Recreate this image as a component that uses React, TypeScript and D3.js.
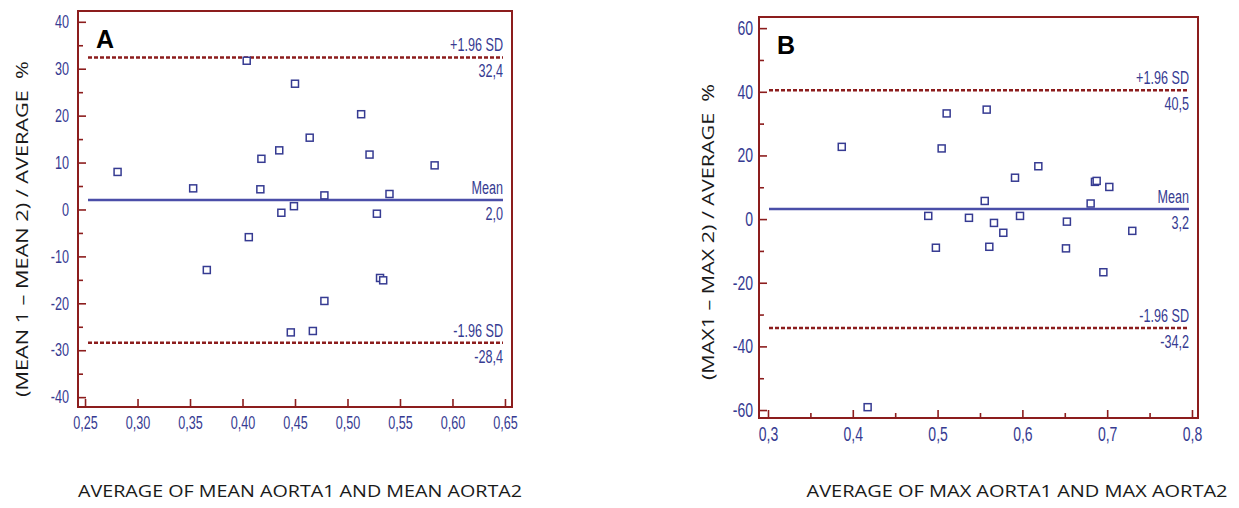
import React, { useEffect, useRef } from 'react';
import * as d3 from 'd3';

// Panel A: mean aorta, % difference vs average
const meanAverage = [0.281, 0.353, 0.366, 0.404, 0.406, 0.417, 0.418, 0.435, 0.437, 0.446, 0.449, 0.450, 0.464, 0.467, 0.478, 0.478, 0.513, 0.521, 0.528, 0.531, 0.534, 0.540, 0.583];
const meanDiff = [8.0, 4.5, -12.9, 31.7, -5.9, 4.3, 10.8, 12.6, -0.7, -26.2, 0.7, 26.8, 15.3, -25.9, 3.0, -19.5, 20.3, 11.7, -0.9, -14.6, -15.1, 3.3, 9.4];
const meanLimits = [32.4, 2.0, -28.4];

// Panel B: max aorta, % difference vs average
const maxAverage = [0.387, 0.4175, 0.489, 0.498, 0.5048, 0.5107, 0.537, 0.5556, 0.5579, 0.561, 0.5665, 0.5775, 0.5913, 0.5972, 0.6188, 0.6514, 0.6525, 0.6805, 0.6856, 0.6876, 0.6955, 0.7025, 0.7296];
const maxDiff = [22.7, -59.1, 1.0, -9.0, 22.2, 33.2, 0.4, 5.7, 34.4, -8.7, -1.2, -4.3, 13.0, 1.0, 16.6, -9.2, -0.8, 4.9, 11.7, 12.0, -16.7, 10.1, -3.7];
const maxLimits = [40.5, 3.2, -34.2];

const limitNames = ['+1.96 SD', 'Mean', '-1.96 SD'];

const xTicksA = [0.25, 0.30, 0.35, 0.40, 0.45, 0.50, 0.55, 0.60, 0.65];
const yTicksA = [-40, -30, -20, -10, 0, 10, 20, 30, 40];
const yMinorA = [-35, -25, -15, -5, 5, 15, 25, 35];

const xTicksB = [0.3, 0.4, 0.5, 0.6, 0.7, 0.8];
const xMinorB = [0.35, 0.45, 0.55, 0.65, 0.75];
const yTicksB = [-60, -40, -20, 0, 20, 40, 60];
const yMinorB = [-50, -30, -10, 10, 30, 50];

const frameColor = '#8c1d1d';
const blue = '#363b92';
const tickFont = "'Liberation Sans', Arial, sans-serif";
const titleFont = "'Open Sans', Lato, sans-serif";

const panels = [
  {
    letter: 'A',
    xs: meanAverage, ys: meanDiff, limits: meanLimits,
    xTicks: xTicksA, xMinor: [], yTicks: yTicksA, yMinor: yMinorA,
    xFmt: (d) => d.toFixed(2).replace('.', ','),
    xDomain: [0.2433, 0.6567], yDomain: [-42.1, 42.3],
    left: 78, right: 512, top: 11, bottom: 407,
    yPad: 9, xPad: 9, fs: 18,
    xTitle: 'AVERAGE OF MEAN AORTA1 AND MEAN AORTA2', xTitleX: 300, xTitleW: 444,
    yTitle: '(MEAN 1 \u2013 MEAN 2) / AVERAGE  %', yTitleX: 28, yTitleY: 229, yTitleW: 336,
  },
  {
    letter: 'B',
    xs: maxAverage, ys: maxDiff, limits: maxLimits,
    xTicks: xTicksB, xMinor: xMinorB, yTicks: yTicksB, yMinor: yMinorB,
    xFmt: (d) => d.toFixed(1).replace('.', ','),
    xDomain: [0.2894, 0.8071], yDomain: [-62.5, 63.5],
    left: 759, right: 1198, top: 17, bottom: 418,
    yPad: 6, xPad: 9, fs: 20,
    xTitle: 'AVERAGE OF MAX AORTA1 AND MAX AORTA2', xTitleX: 1017, xTitleW: 421,
    yTitle: '(MAX1 \u2013 MAX 2) / AVERAGE  %', yTitleX: 714, yTitleY: 232, yTitleW: 296,
  },
];

// squeeze text horizontally, like the narrow font of the original plot
function condense(sel, factor) {
  sel.each(function () {
    const w = this.getComputedTextLength();
    if (w > 0) {
      this.setAttribute('textLength', String(w * factor));
      this.setAttribute('lengthAdjust', 'spacingAndGlyphs');
    }
  });
}

function fitWidth(sel, width) {
  sel.attr('textLength', width).attr('lengthAdjust', 'spacingAndGlyphs');
}

function styleAxis(sel, fs) {
  sel.select('.domain').remove();
  sel.selectAll('.tick line').attr('stroke', frameColor).attr('stroke-width', 1.6);
  sel.selectAll('.tick text')
    .attr('fill', blue)
    .style('font-family', tickFont)
    .style('font-size', fs + 'px')
    .call(condense, 0.7);
}

function drawPanel(svg, p) {
  const x = d3.scaleLinear().domain(p.xDomain).range([p.left, p.right]);
  const y = d3.scaleLinear().domain(p.yDomain).range([p.bottom, p.top]);
  const g = svg.append('g');

  // minor ticks
  g.append('g')
    .attr('transform', `translate(${p.left},0)`)
    .call(d3.axisLeft(y).tickValues(p.yMinor).tickSize(-5).tickFormat(() => ''))
    .call(styleAxis, p.fs);
  g.append('g')
    .attr('transform', `translate(0,${p.bottom})`)
    .call(d3.axisBottom(x).tickValues(p.xMinor).tickSize(-5).tickFormat(() => ''))
    .call(styleAxis, p.fs);

  // major ticks with labels
  g.append('g')
    .attr('transform', `translate(${p.left},0)`)
    .call(d3.axisLeft(y).tickValues(p.yTicks).tickSize(-8).tickPadding(p.yPad).tickFormat((d) => String(d)))
    .call(styleAxis, p.fs);
  g.append('g')
    .attr('transform', `translate(0,${p.bottom})`)
    .call(d3.axisBottom(x).tickValues(p.xTicks).tickSize(-8).tickPadding(p.xPad).tickFormat(p.xFmt))
    .call(styleAxis, p.fs);

  // frame
  g.append('rect')
    .attr('x', p.left).attr('y', p.top)
    .attr('width', p.right - p.left).attr('height', p.bottom - p.top)
    .attr('fill', 'none').attr('stroke', frameColor).attr('stroke-width', 2);

  // mean and limits of agreement
  const x1 = p.left + 10, x2 = p.right - 9;
  p.limits.forEach((v, i) => {
    const isMean = i === 1;
    g.append('line')
      .attr('x1', x1).attr('x2', x2)
      .attr('y1', y(v)).attr('y2', y(v))
      .attr('stroke', isMean ? '#4a4ea8' : frameColor)
      .attr('stroke-width', 2.5)
      .attr('stroke-dasharray', isMean ? null : '4,2');
    g.append('text')
      .attr('x', x2).attr('y', y(v) - 6)
      .attr('text-anchor', 'end')
      .attr('fill', blue)
      .style('font-family', tickFont).style('font-size', '18px')
      .text(limitNames[i])
      .call(condense, 0.7);
    g.append('text')
      .attr('x', x2).attr('y', y(v) + 20)
      .attr('text-anchor', 'end')
      .attr('fill', blue)
      .style('font-family', tickFont).style('font-size', '18px')
      .text(v.toFixed(1).replace('.', ','))
      .call(condense, 0.7);
  });

  // points
  g.selectAll('rect.pt')
    .data(d3.zip(p.xs, p.ys))
    .join('rect')
    .attr('class', 'pt')
    .attr('x', (d) => x(d[0]) - 3.5)
    .attr('y', (d) => y(d[1]) - 3.5)
    .attr('width', 7).attr('height', 7)
    .attr('fill', 'white')
    .attr('stroke', blue)
    .attr('stroke-width', 1.5);

  // panel letter
  g.append('text')
    .attr('x', p.left + 18).attr('y', p.top + 37)
    .attr('fill', '#000')
    .style('font-family', "'Liberation Sans', Arial, sans-serif")
    .style('font-weight', 'bold').style('font-size', '25px')
    .text(p.letter);

  // axis titles
  svg.append('text')
    .attr('x', p.xTitleX).attr('y', 497)
    .attr('text-anchor', 'middle')
    .attr('fill', '#1a1a1a')
    .style('font-family', titleFont).style('font-size', '17px')
    .text(p.xTitle)
    .call(fitWidth, p.xTitleW);
  svg.append('text')
    .attr('transform', `translate(${p.yTitleX},${p.yTitleY}) rotate(-90)`)
    .attr('text-anchor', 'middle')
    .attr('fill', '#1a1a1a')
    .style('font-family', titleFont).style('font-size', '17px')
    .style('white-space', 'pre')
    .text(p.yTitle)
    .call(fitWidth, p.yTitleW);
}

export default function App() {
  const ref = useRef(null);

  useEffect(() => {
    const svg = d3.select(ref.current);
    svg.selectAll('*').remove();
    panels.forEach((p) => drawPanel(svg, p));
  }, []);

  return (
    <svg
      ref={ref}
      width={1239}
      height={508}
      style={{ position: 'absolute', left: 0, top: 0, background: '#fff' }}
    />
  );
}
